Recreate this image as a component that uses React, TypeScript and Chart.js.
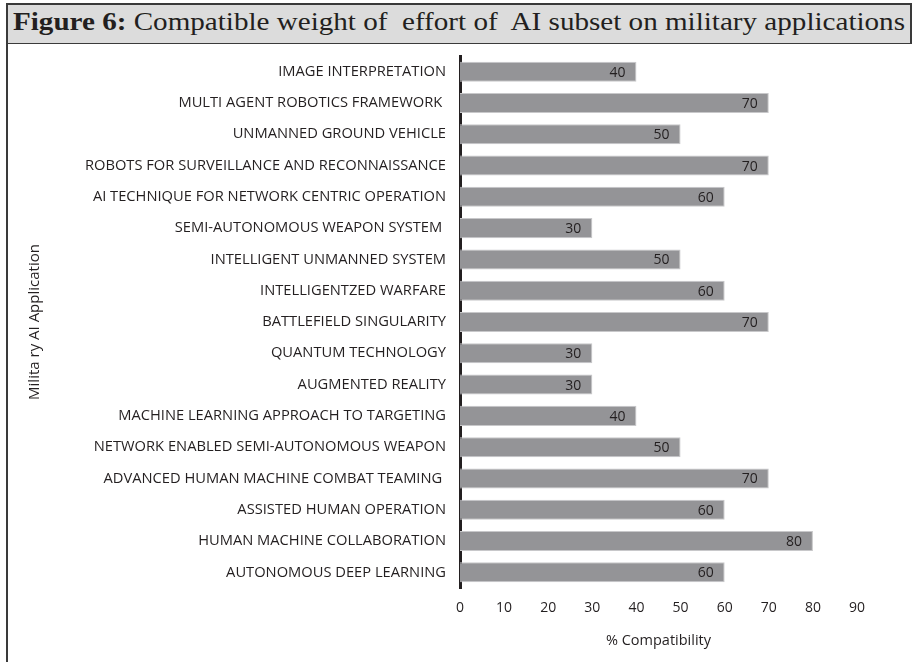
import React, { useEffect, useLayoutEffect, useRef } from "react";
import { Chart, registerables } from "chart.js";

Chart.register(...registerables);

const applications = [
  "IMAGE INTERPRETATION",
  "MULTI AGENT ROBOTICS FRAMEWORK ",
  "UNMANNED GROUND VEHICLE",
  "ROBOTS FOR SURVEILLANCE AND RECONNAISSANCE",
  "AI TECHNIQUE FOR NETWORK CENTRIC OPERATION",
  "SEMI-AUTONOMOUS WEAPON SYSTEM ",
  "INTELLIGENT UNMANNED SYSTEM",
  "INTELLIGENTZED WARFARE",
  "BATTLEFIELD SINGULARITY",
  "QUANTUM TECHNOLOGY",
  "AUGMENTED REALITY",
  "MACHINE LEARNING APPROACH TO TARGETING",
  "NETWORK ENABLED SEMI-AUTONOMOUS WEAPON",
  "ADVANCED HUMAN MACHINE COMBAT TEAMING ",
  "ASSISTED HUMAN OPERATION",
  "HUMAN MACHINE COLLABORATION",
  "AUTONOMOUS DEEP LEARNING",
];

const compatibility = [40, 70, 50, 70, 60, 30, 50, 60, 70, 30, 30, 40, 50, 70, 60, 80, 60];

const xMin = 0;
const xMax = 90;
const xStep = 10;

const titleBold = "Figure 6:";
const titleRest = " Compatible weight of  effort of  AI subset on military applications";
const xTitle = "% Compatibility";
const yTitle = "Milita ry AI Application";

const SANS = "'Open Sans', 'DejaVu Sans', sans-serif";
const INK = "#231f20";

// value printed just inside the end of each bar
const valueLabels = {
  id: "valueLabels",
  afterDatasetsDraw(chart: any) {
    const ctx = chart.ctx;
    const meta = chart.getDatasetMeta(0);
    ctx.save();
    ctx.font = `14px ${SANS}`;
    ctx.fillStyle = INK;
    ctx.textAlign = "right";
    ctx.textBaseline = "middle";
    meta.data.forEach((bar: any, i: number) => {
      ctx.fillText(String(compatibility[i]), bar.x - 11, bar.y + 1);
    });
    ctx.restore();
  },
};

function CompatibilityChart() {
  const canvasRef = useRef<HTMLCanvasElement | null>(null);

  useEffect(() => {
    const canvas = canvasRef.current;
    if (!canvas) return;
    const chart = new Chart(canvas, {
      type: "bar",
      data: {
        labels: applications,
        datasets: [
          {
            data: compatibility,
            backgroundColor: "#949497",
            borderColor: "#c8c8ca",
            borderWidth: 1,
            categoryPercentage: 0.64,
            barPercentage: 1,
          },
        ],
      },
      options: {
        indexAxis: "y",
        responsive: false,
        animation: false,
        devicePixelRatio: 1,
        layout: { padding: { top: 9, right: 58, bottom: 0, left: 0 } },
        plugins: {
          legend: { display: false },
          tooltip: { enabled: false },
        },
        scales: {
          x: {
            min: xMin,
            max: xMax,
            grid: { display: false, drawTicks: false },
            border: { display: false },
            ticks: {
              stepSize: xStep,
              padding: 12,
              color: INK,
              font: { family: SANS, size: 14 },
            },
            title: {
              display: true,
              text: xTitle,
              color: INK,
              font: { family: SANS, size: 14.5 },
              padding: { top: 0, bottom: 12 },
            },
            afterFit(scale: any) {
              scale.height = 74;
              scale.paddingLeft = 0;
              scale.paddingRight = 0;
            },
          },
          y: {
            grid: { display: false, drawTicks: false },
            border: { display: true, color: INK, width: 3 },
            ticks: {
              padding: 14,
              color: INK,
              autoSkip: false,
              font: { family: SANS, size: 14.7 },
            },
            title: {
              display: true,
              text: yTitle,
              color: INK,
              font: { family: SANS, size: 15 },
              padding: { top: 18, bottom: 0 },
            },
            afterFit(scale: any) {
              scale.width = 452;
              scale.paddingTop = 0;
              scale.paddingBottom = 0;
            },
          },
        },
      },
      plugins: [valueLabels],
    });
    return () => chart.destroy();
  }, []);

  return (
    <canvas
      ref={canvasRef}
      width={907}
      height={615}
      style={{ position: "absolute", left: 8, top: 47, width: 907, height: 615 }}
    />
  );
}

// Title banner; the heading is stretched horizontally to run the full width of the box
function TitleBanner() {
  const textRef = useRef<HTMLSpanElement | null>(null);
  const targetWidth = 892;

  useLayoutEffect(() => {
    const el = textRef.current;
    if (!el) return;
    const w = el.getBoundingClientRect().width;
    if (w > 0) el.style.transform = `scaleX(${targetWidth / w})`;
  }, []);

  return (
    <div
      style={{
        position: "absolute",
        left: 6,
        top: 3,
        width: 906,
        height: 41,
        boxSizing: "border-box",
        borderTop: "2px solid #3a3a3a",
        borderLeft: "2px solid #3a3a3a",
        borderRight: "2px solid #3a3a3a",
        borderBottom: "1.5px solid #3a3a3a",
        background: "#dcdcdc",
        overflow: "hidden",
      }}
    >
      <span
        ref={textRef}
        style={{
          position: "absolute",
          left: 5,
          top: 0,
          display: "inline-block",
          transformOrigin: "0 0",
          fontFamily: "'Liberation Serif', 'DejaVu Serif', serif",
          fontSize: 25,
          lineHeight: "34px",
          whiteSpace: "pre",
          color: INK,
        }}
      >
        <b>{titleBold}</b>
        {titleRest}
      </span>
    </div>
  );
}

export default function App() {
  return (
    <div
      style={{
        position: "absolute",
        left: 0,
        top: 0,
        width: 915,
        height: 662,
        background: "#ffffff",
        overflow: "hidden",
      }}
    >
      <TitleBanner />
      <div
        style={{
          position: "absolute",
          left: 6,
          top: 43,
          width: 2,
          height: 619,
          background: "#3a3a3a",
        }}
      />
      <CompatibilityChart />
    </div>
  );
}
